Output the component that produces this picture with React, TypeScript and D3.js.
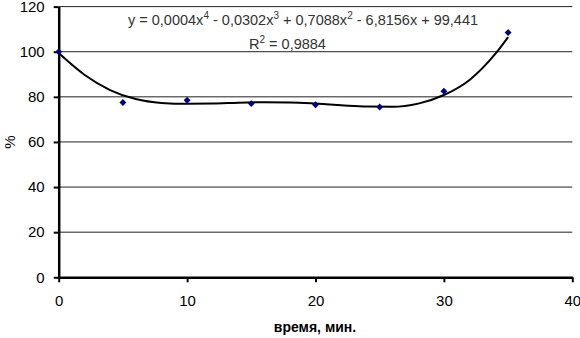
import React, { useEffect, useRef } from 'react'
import * as d3 from 'd3'

// measured points, time (min) vs %
const times = [0, 5, 10, 15, 20, 25, 30, 35]
const percents = [100, 77.5, 78.5, 77, 76.5, 75.5, 82.5, 108.5]

// polynomial trend line
const trendX = [0, 2, 4, 6, 8, 10, 12, 14, 16, 18, 20, 22, 24, 26, 28, 30, 32, 34, 35]
const trendY = [99.4, 89.8, 83.0, 79.0, 77.3, 76.9, 77.0, 77.4, 77.6, 77.5, 77.0, 76.3, 75.7, 75.6, 77.0, 80.8, 87.5, 99.0, 106.5]

const xTicks = [0, 10, 20, 30, 40]
const yTicks = [0, 20, 40, 60, 80, 100, 120]

export default function App() {
  const ref = useRef<SVGSVGElement>(null)

  useEffect(() => {
    const svg = d3.select(ref.current)
    svg.selectAll('*').remove()

    const x = d3.scaleLinear().domain([0, 40]).range([58.7, 572.3])
    const y = d3.scaleLinear().domain([0, 120]).range([277.3, 6.6])
    const font = 'Liberation Sans, Arial, sans-serif'

    svg.append('rect').attr('width', 580).attr('height', 338).attr('fill', '#fff')

    // grid
    svg.append('g')
      .selectAll('line')
      .data(yTicks.filter(d => d > 0))
      .enter()
      .append('line')
      .attr('x1', x(0)).attr('x2', x(40))
      .attr('y1', d => y(d)).attr('y2', d => y(d))
      .attr('stroke', '#222')
      .attr('stroke-width', 1)

    // axes
    const yAxis = svg.append('g')
      .attr('transform', 'translate(' + x(0) + ',0)')
      .call(d3.axisLeft(y).tickValues(yTicks).tickSize(5).tickSizeOuter(0).tickPadding(9))
    yAxis.select('.domain').attr('stroke', '#000').attr('stroke-width', 2.5)
    yAxis.selectAll('.tick line').attr('stroke', '#000').attr('stroke-width', 2)
    yAxis.selectAll('text').attr('font-family', font).attr('font-size', 15).attr('fill', '#000')

    const xAxis = svg.append('g')
      .attr('transform', 'translate(0,' + y(0) + ')')
      .call(d3.axisBottom(x).tickValues(xTicks).tickSize(5).tickSizeOuter(0).tickPadding(13))
    xAxis.select('.domain').attr('stroke', '#000').attr('stroke-width', 2.5)
    xAxis.selectAll('.tick line').attr('stroke', '#000').attr('stroke-width', 2)
    xAxis.selectAll('text').attr('font-family', font).attr('font-size', 15).attr('fill', '#000')

    // trend curve
    const trend = trendX.map((t, i) => [t, trendY[i]] as [number, number])
    svg.append('path')
      .datum(trend)
      .attr('d', d3.line<[number, number]>()
        .x(d => x(d[0]))
        .y(d => y(d[1]))
        .curve(d3.curveMonotoneX))
      .attr('fill', 'none')
      .attr('stroke', '#000')
      .attr('stroke-width', 2)

    // points
    svg.append('g')
      .selectAll('path')
      .data(times)
      .enter()
      .append('path')
      .attr('d', d3.symbol(d3.symbolDiamond2, 30))
      .attr('transform', (d, i) => 'translate(' + x(d) + ',' + y(percents[i]) + ')')
      .attr('fill', '#000080')

    // equation text with superscripts
    const writeSup = (sel: d3.Selection<SVGTextElement, unknown, null, undefined>, parts: [string, string][]) => {
      let raised = false
      parts.forEach(([t, s]) => {
        sel.append('tspan').attr('dy', raised ? 6 : 0).text(t)
        raised = false
        if (s) {
          sel.append('tspan').attr('dy', -6).attr('font-size', 10).text(s)
          raised = true
        }
      })
    }
    const eq = svg.append('text')
      .attr('x', 128).attr('y', 25)
      .attr('font-family', font).attr('font-size', 14.5).attr('fill', '#333')
    writeSup(eq as any, [
      ['y = 0,0004x', '4'], [' - 0,0302x', '3'], [' + 0,7088x', '2'], [' - 6,8156x + 99,441', '']
    ])
    const r2 = svg.append('text')
      .attr('x', 249).attr('y', 49)
      .attr('font-family', font).attr('font-size', 14.5).attr('fill', '#333')
    writeSup(r2 as any, [['R', '2'], [' = 0,9884', '']])

    // axis titles
    svg.append('text')
      .attr('x', 315).attr('y', 332)
      .attr('text-anchor', 'middle')
      .attr('font-family', font).attr('font-size', 14).attr('font-weight', 'bold')
      .text('время, мин.')
    svg.append('text')
      .attr('transform', 'translate(15,142) rotate(-90)')
      .attr('text-anchor', 'middle')
      .attr('font-family', font).attr('font-size', 15)
      .text('%')
  }, [])

  return (
    <div style={{ position: 'absolute', left: 0, top: 0 }}>
      <svg ref={ref} width={580} height={338}></svg>
    </div>
  )
}
